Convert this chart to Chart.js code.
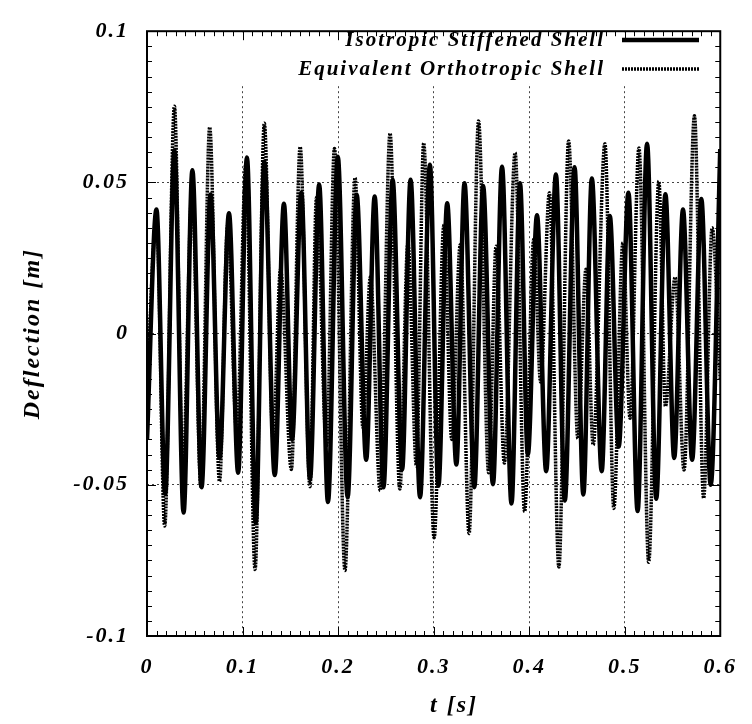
<!DOCTYPE html>
<html>
<head>
<meta charset="utf-8">
<script src="https://cdn.jsdelivr.net/npm/chart.js@4.4.1/dist/chart.umd.min.js"></script>
<style>
  html, body { margin: 0; padding: 0; background: #fff; }
  #wrap { width: 752px; height: 724px; }
</style>
</head>
<body>
<div id="wrap"><canvas id="deflChart" width="752" height="724"></canvas></div>
<script>
// peaks / troughs: time [s], deflection [m]
const isoT = [0, 0.0099, 0.019, 0.0287, 0.0383, 0.0475, 0.0571, 0.0665, 0.0759, 0.0858,
  0.0954, 0.1046, 0.1138, 0.1228, 0.1337, 0.1433, 0.1518, 0.1615, 0.1706, 0.1802,
  0.1894, 0.1997, 0.21, 0.2195, 0.2294, 0.2383, 0.2475, 0.2571, 0.267, 0.2759,
  0.2858, 0.2961, 0.305, 0.3142, 0.3238, 0.3323, 0.3426, 0.3518, 0.3621, 0.3716,
  0.3815, 0.3904, 0.3986, 0.4082, 0.4178, 0.428, 0.4373, 0.4475, 0.4567, 0.4656,
  0.4759, 0.4844, 0.4937, 0.5039, 0.5135, 0.5234, 0.533, 0.5426, 0.5518, 0.561,
  0.5706, 0.5802, 0.59, 0.6];
const isoV = [-0.035, 0.041, -0.053, 0.0606, -0.0592, 0.054, -0.0508, 0.046, -0.0411, 0.0398,
  -0.046, 0.0582, -0.0627, 0.0569, -0.0468, 0.0429, -0.035, 0.0466, -0.048, 0.0493,
  -0.0557, 0.0585, -0.0541, 0.0459, -0.0417, 0.0453, -0.0508, 0.0509, -0.045, 0.0509,
  -0.0541, 0.0558, -0.0503, 0.0431, -0.0433, 0.0497, -0.0508, 0.0488, -0.0498, 0.0552,
  -0.0562, 0.0497, -0.040, 0.0391, -0.0455, 0.0526, -0.0552, 0.055, -0.0532, 0.0513,
  -0.0455, 0.0389, -0.0374, 0.0466, -0.0587, 0.0628, -0.0546, 0.0461, -0.0411, 0.041,
  -0.0417, 0.0445, -0.050, 0.061];

const ortT = [0, 0.010, 0.0185, 0.0287, 0.0375, 0.0472, 0.0565, 0.0656, 0.0759, 0.0845,
  0.094, 0.1035, 0.1131, 0.1228, 0.132, 0.1398, 0.1511, 0.1603, 0.1706, 0.1774,
  0.188, 0.1962, 0.2072, 0.2178, 0.226, 0.2338, 0.2441, 0.2544, 0.2646, 0.2731,
  0.282, 0.2896, 0.3005, 0.3108, 0.319, 0.3279, 0.3371, 0.347, 0.3576, 0.3654,
  0.374, 0.3853, 0.3952, 0.4048, 0.412, 0.4212, 0.4311, 0.4413, 0.451, 0.4595,
  0.467, 0.4793, 0.4886, 0.4981, 0.5056, 0.5149, 0.5251, 0.5357, 0.5426, 0.5528,
  0.5621, 0.573, 0.5826, 0.5915, 0.6];
const ortV = [-0.02, 0.039, -0.0636, 0.0752, -0.045, 0.048, -0.0508, 0.0682, -0.0489, 0.036,
  -0.033, 0.056, -0.078, 0.0696, -0.035, 0.0213, -0.0449, 0.0617, -0.0506, 0.045,
  -0.037, 0.0612, -0.0783, 0.0515, -0.031, 0.0187, -0.0519, 0.0662, -0.0514, 0.030,
  -0.0438, 0.063, -0.0675, 0.0359, -0.035, 0.0294, -0.0661, 0.0703, -0.046, 0.0289,
  -0.0428, 0.0598, -0.0589, 0.0312, -0.016, 0.0466, -0.0772, 0.0637, -0.0347, 0.0213,
  -0.0368, 0.0628, -0.0578, 0.030, -0.028, 0.0614, -0.0756, 0.0504, -0.024, 0.0186,
  -0.0451, 0.072, -0.0544, 0.035, -0.015];

const seriesNames = ['Isotropic Stiffened Shell', 'Equivalent Orthotropic Shell'];
const xTicks = [0, 0.1, 0.2, 0.3, 0.4, 0.5, 0.6];
const yTicks = [-0.1, -0.05, 0, 0.05, 0.1];
const xTitle = 't [s]';
const yTitle = 'Deflection [m]';

const FONT = 'Liberation Serif';

function toPoints(ts, vs) {
  return ts.map((t, i) => ({ x: t, y: vs[i] }));
}

// inner grid only (frame drawn separately)
function gridColor(ctx, lo, hi) {
  const v = ctx.tick ? ctx.tick.value : null;
  if (v === null || Math.abs(v - lo) < 1e-9 || Math.abs(v - hi) < 1e-9) return 'rgba(0,0,0,0)';
  return '#444';
}

const framePlugin = {
  id: 'frame',
  beforeDraw(chart) {
    chart.ctx.letterSpacing = '2px';
  },
  afterDraw(chart) {
    const ctx = chart.ctx;
    const a = chart.chartArea;
    const xs = chart.scales.x, ys = chart.scales.y;
    ctx.save();
    ctx.strokeStyle = '#000';
    ctx.lineWidth = 1;
    ctx.beginPath();
    // minor + major ticks, pointing inwards on all four sides
    for (let i = 0; i <= 60; i++) {
      const px = Math.round(xs.getPixelForValue(i / 100)) + 0.5;
      const len = i % 10 === 0 ? 9 : 5;
      ctx.moveTo(px, a.bottom); ctx.lineTo(px, a.bottom - len);
      ctx.moveTo(px, a.top); ctx.lineTo(px, a.top + len);
    }
    for (let i = -20; i <= 20; i++) {
      const py = Math.round(ys.getPixelForValue(i * 0.005)) + 0.5;
      const len = i % 10 === 0 ? 9 : 5;
      ctx.moveTo(a.left, py); ctx.lineTo(a.left + len, py);
      ctx.moveTo(a.right, py); ctx.lineTo(a.right - len, py);
    }
    ctx.stroke();
    ctx.lineWidth = 2;
    ctx.strokeRect(a.left, a.top, a.right - a.left, a.bottom - a.top);

    // axis titles
    ctx.fillStyle = '#000';
    ctx.font = 'italic bold 24px "' + FONT + '"';
    ctx.letterSpacing = '2px';
    ctx.textAlign = 'center';
    ctx.textBaseline = 'middle';
    ctx.fillText(xTitle, 454, 706);
    ctx.save();
    ctx.translate(33, (a.top + a.bottom) / 2);
    ctx.rotate(-Math.PI / 2);
    ctx.fillText(yTitle, 0, 0);
    ctx.restore();
    ctx.restore();
  },
  afterDatasetsDraw(chart) {
    // key box in the top right corner
    const ctx = chart.ctx;
    const a = chart.chartArea;
    ctx.save();
    ctx.fillStyle = '#fff';
    ctx.fillRect(236, a.top + 1, a.right - 237, 84 - a.top);
    ctx.font = 'italic bold 21px "' + FONT + '"';
    ctx.letterSpacing = '2px';
    ctx.fillStyle = '#000';
    ctx.textAlign = 'right';
    ctx.textBaseline = 'middle';
    const rows = [40, 69];
    chart.data.datasets.forEach((ds, i) => {
      ctx.fillText(ds.label, 605, rows[i] + 1);
      ctx.beginPath();
      ctx.lineWidth = ds.borderWidth;
      ctx.strokeStyle = ds.borderColor;
      ctx.setLineDash(ds.borderDash || []);
      ctx.moveTo(622, rows[i]);
      ctx.lineTo(699, rows[i]);
      ctx.stroke();
    });
    ctx.restore();
  }
};

const tickFont = { family: FONT, size: 22, style: 'italic', weight: 'bold' };

new Chart(document.getElementById('deflChart'), {
  type: 'line',
  data: {
    datasets: [
      {
        label: seriesNames[0],
        data: toPoints(isoT, isoV),
        borderColor: '#000',
        borderWidth: 4.5,
        pointRadius: 0,
        cubicInterpolationMode: 'monotone',
        fill: false
      },
      {
        label: seriesNames[1],
        data: toPoints(ortT, ortV),
        borderColor: '#000',
        borderWidth: 3.5,
        borderDash: [2, 1],
        pointRadius: 0,
        cubicInterpolationMode: 'monotone',
        fill: false
      }
    ]
  },
  options: {
    responsive: false,
    animation: false,
    devicePixelRatio: 1,
    layout: { padding: { left: 0, right: 20, top: 16, bottom: 0 } },
    plugins: {
      legend: { display: false },
      tooltip: { enabled: false }
    },
    scales: {
      x: {
        type: 'linear',
        min: 0,
        max: 0.6,
        afterFit: s => { s.height = 88; },
        afterBuildTicks: s => { s.ticks = xTicks.map(v => ({ value: v })); },
        grid: { color: c => gridColor(c, 0, 0.6), lineWidth: 1, drawTicks: false },
        border: { display: false, dash: [2, 3] },
        ticks: {
          color: '#000',
          font: tickFont,
          padding: 18,
          maxRotation: 0,
          callback: v => String(parseFloat(v.toFixed(2)))
        }
      },
      y: {
        type: 'linear',
        min: -0.1,
        max: 0.1,
        afterFit: s => { s.width = 147; },
        afterBuildTicks: s => { s.ticks = yTicks.map(v => ({ value: v })); },
        grid: { color: c => gridColor(c, -0.1, 0.1), lineWidth: 1, drawTicks: false },
        border: { display: false, dash: [2, 3] },
        ticks: {
          color: '#000',
          font: tickFont,
          padding: 18,
          callback: v => String(parseFloat(v.toFixed(2)))
        }
      }
    }
  },
  plugins: [framePlugin]
});
</script>
</body>
</html>
